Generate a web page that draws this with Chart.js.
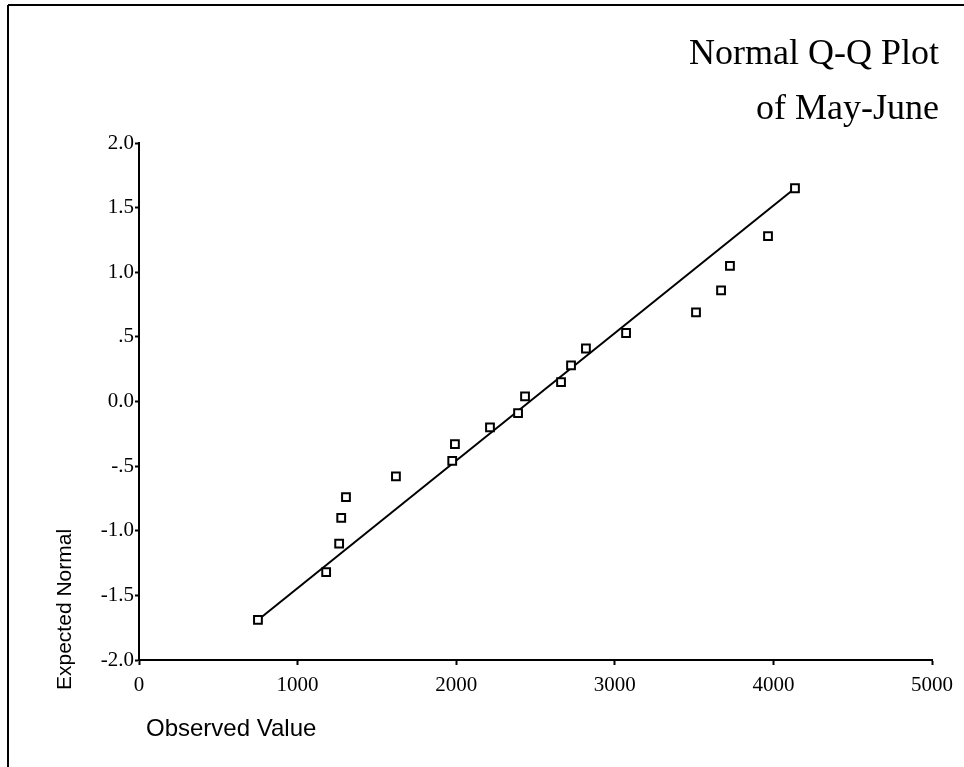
<!DOCTYPE html>
<html>
<head>
<meta charset="utf-8">
<title>Normal Q-Q Plot of May-June</title>
<script src="https://cdn.jsdelivr.net/npm/chart.js@4/dist/chart.umd.min.js"></script>
<style>
  html, body { margin: 0; padding: 0; background: #fff; }
  #wrap { width: 964px; height: 767px; position: relative; }
</style>
</head>
<body>
<div id="wrap"><canvas id="qq" width="964" height="767"></canvas></div>
<script>
const observed = [750, 1180, 1262, 1275, 1305, 1620, 1975, 1992, 2213, 2390,
                  2434, 2661, 2724, 2818, 3071, 3512, 3670, 3726, 3966, 4136];
const expected = [-1.69, -1.32, -1.10, -0.90, -0.74, -0.58, -0.46, -0.33, -0.20, -0.09,
                  0.04, 0.15, 0.28, 0.41, 0.53, 0.69, 0.86, 1.05, 1.28, 1.65];
// reference line end points
const lineX = [750, 4136];
const lineY = [-1.69, 1.65];
// axis ticks
const xTicks = [0, 1000, 2000, 3000, 4000, 5000];
const yTicks = [-2, -1.5, -1, -0.5, 0, 0.5, 1, 1.5, 2];
const yTickLabels = ['-2.0', '-1.5', '-1.0', '-.5', '0.0', '.5', '1.0', '1.5', '2.0'];
const titleLines = ['Normal Q-Q Plot', 'of May-June'];

(function() {
    'use strict';

    const serif = '"Liberation Serif", "Times New Roman", serif';
    const sans = '"Liberation Sans", Arial, sans-serif';

    // frame, title and axis titles
    const decor = {
        id: 'decor',
        afterDraw(chart) {
            const c = chart.ctx;
            c.save();
            c.strokeStyle = '#000';
            c.lineWidth = 2;
            c.beginPath();
            c.moveTo(8, 5); c.lineTo(964, 5);
            c.moveTo(8, 5); c.lineTo(8, 767);
            c.stroke();

            c.fillStyle = '#000';
            c.font = '36px ' + serif;
            c.textAlign = 'right';
            c.textBaseline = 'alphabetic';
            c.fillText(titleLines[0], 939, 64);
            c.fillText(titleLines[1], 939, 119);

            c.font = '24px ' + sans;
            c.textAlign = 'left';
            c.textBaseline = 'middle';
            c.fillText('Observed Value', 146, 729);

            c.font = '21px ' + sans;
            c.translate(65, 690);
            c.rotate(-Math.PI / 2);
            c.fillText('Expected Normal', 0, 0);
            c.restore();
        }
    };

    new Chart(document.getElementById('qq'), {
        type: 'scatter',
        data: {
            datasets: [
                {
                    label: 'Observed',
                    data: observed.map((x, i) => ({ x: x, y: expected[i] })),
                    pointStyle: 'rect',
                    pointRadius: 5.5,
                    pointBorderWidth: 2,
                    pointBorderColor: '#000',
                    pointBackgroundColor: '#fff',
                    order: 0
                },
                {
                    label: 'Line',
                    type: 'line',
                    data: lineX.map((x, i) => ({ x: x, y: lineY[i] })),
                    borderColor: '#000',
                    borderWidth: 2,
                    pointRadius: 0,
                    fill: false,
                    order: 1
                }
            ]
        },
        options: {
            responsive: false,
            animation: false,
            layout: { padding: { top: 143, right: 32, left: 0, bottom: 0 } },
            plugins: { legend: { display: false }, tooltip: { enabled: false } },
            scales: {
                x: {
                    type: 'linear', min: 0, max: 5000,
                    afterBuildTicks: s => { s.ticks = xTicks.map(v => ({ value: v })); },
                    afterFit: s => { s.height = 107; },
                    grid: { drawOnChartArea: false, drawTicks: true, tickLength: 5, tickWidth: 2, color: '#000' },
                    border: { display: true, color: '#000', width: 2 },
                    ticks: {
                        color: '#000', font: { family: serif, size: 21 }, padding: 8, maxRotation: 0,
                        callback: v => String(v)
                    }
                },
                y: {
                    type: 'linear', min: -2, max: 2,
                    afterBuildTicks: s => { s.ticks = yTicks.map(v => ({ value: v })); },
                    afterFit: s => { s.width = 139; },
                    grid: { drawOnChartArea: false, drawTicks: true, tickLength: 4, tickWidth: 2, color: '#000' },
                    border: { display: true, color: '#000', width: 2 },
                    ticks: {
                        color: '#000', font: { family: serif, size: 21 }, padding: 1,
                        callback: v => yTickLabels[yTicks.indexOf(v)]
                    }
                }
            }
        },
        plugins: [decor]
    });
})();
</script>
</body>
</html>
